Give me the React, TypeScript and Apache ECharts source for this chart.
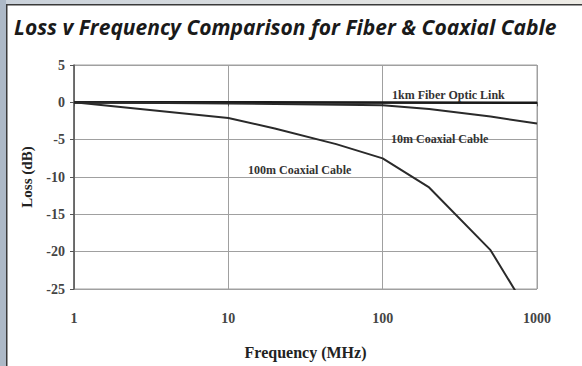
import React, { useEffect, useRef } from "react";
import * as echarts from "echarts";

const fiberFreq = [1, 10, 100, 1000];
const fiberLoss = [0, 0, -0.02, -0.05];
const coax10Freq = [1, 10, 100, 200, 500, 1000];
const coax10Loss = [0, -0.15, -0.4, -0.9, -1.9, -2.85];
const coax100Freq = [1, 10, 20, 50, 100, 200, 500, 1000];
const coax100Loss = [0, -2.1, -3.5, -5.6, -7.5, -11.4, -19.8, -30];
const xTicks = [1, 10, 100, 1000];

const pairs = (xs: number[], ys: number[]) => xs.map((x, i) => [x, ys[i]]);

export default function App() {
  const ref = useRef<HTMLDivElement>(null);
  useEffect(() => {
    const chart = echarts.init(ref.current!, null, { renderer: "svg" });
    const serif = "Liberation Serif";
    chart.setOption({
      animation: false,
      backgroundColor: "#ffffff",
      title: {
        text: "Loss v Frequency Comparison for Fiber & Coaxial Cable",
        left: 9,
        top: 11,
        textStyle: {
          fontFamily: "'Open Sans', sans-serif",
          fontStyle: "italic",
          fontWeight: "bold",
          fontSize: 21,
          color: "#1a1a1a",
        },
      },
      graphic: [
        {
          type: "rect",
          shape: { x: 0, y: 0, width: 582, height: 4 },
          style: {
            fill: new echarts.graphic.LinearGradient(0, 0, 1, 0, [
              { offset: 0, color: "#c9d1da" },
              { offset: 1, color: "#eeece6" },
            ]),
          },
          z: 100,
        },
        { type: "rect", shape: { x: 0, y: 0, width: 6, height: 366 }, style: { fill: "#adb9c7" }, z: 100 },
        { type: "rect", shape: { x: 6, y: 4, width: 576, height: 1.5 }, style: { fill: "#3a3a3a" }, z: 101 },
        { type: "rect", shape: { x: 6, y: 4, width: 1.5, height: 362 }, style: { fill: "#3a3a3a" }, z: 101 },
        {
          type: "text",
          left: 392,
          top: 89,
          style: { text: "1km Fiber Optic Link", font: `bold 12px ${serif}`, fill: "#333" },
          z: 50,
        },
        {
          type: "text",
          left: 391,
          top: 133,
          style: { text: "10m Coaxial Cable", font: `bold 12px ${serif}`, fill: "#333" },
          z: 50,
        },
        {
          type: "text",
          left: 248,
          top: 164,
          style: { text: "100m Coaxial Cable", font: `bold 12px ${serif}`, fill: "#333" },
          z: 50,
        },
      ],
      grid: { left: 74, right: 45, top: 65, bottom: 77, show: true, borderColor: "#a0a0a0", borderWidth: 1 },
      xAxis: {
        type: "log",
        logBase: 10,
        min: 1,
        max: 1000,
        name: "Frequency (MHz)",
        nameLocation: "middle",
        nameGap: 55,
        nameTextStyle: { fontFamily: serif, fontWeight: "bold", fontSize: 16, color: "#222" },
        axisLine: { show: true, lineStyle: { color: "#555", width: 1.5 } },
        axisTick: { show: true, length: 4, lineStyle: { color: "#555" } },
        minorTick: { show: false },
        axisLabel: {
          fontFamily: serif,
          fontSize: 14,
          fontWeight: "bold",
          color: "#444",
          margin: 22,
          customValues: xTicks,
          formatter: (v: number) => String(Math.round(v)),
        },
        splitLine: { show: true, lineStyle: { color: "#a0a0a0", width: 1 } },
      },
      yAxis: {
        type: "value",
        min: -25,
        max: 5,
        interval: 5,
        name: "Loss (dB)",
        nameLocation: "middle",
        nameGap: 40,
        nameTextStyle: { fontFamily: serif, fontWeight: "bold", fontSize: 15, color: "#222" },
        axisLine: { show: true, lineStyle: { color: "#555", width: 1.5 } },
        axisTick: { show: true, length: 4, lineStyle: { color: "#555" } },
        axisLabel: {
          fontFamily: serif,
          fontSize: 14,
          fontWeight: "bold",
          color: "#444",
          margin: 9,
          formatter: (v: number) => String(v),
        },
        splitLine: { show: true, lineStyle: { color: "#a0a0a0", width: 1 } },
      },
      series: [
        {
          type: "line",
          name: "1km Fiber Optic Link",
          data: pairs(fiberFreq, fiberLoss),
          symbol: "none",
          lineStyle: { color: "#1a1a1a", width: 2.5 },
          clip: true,
        },
        {
          type: "line",
          name: "10m Coaxial Cable",
          data: pairs(coax10Freq, coax10Loss),
          symbol: "none",
          lineStyle: { color: "#2a2a2a", width: 2 },
          clip: true,
        },
        {
          type: "line",
          name: "100m Coaxial Cable",
          data: pairs(coax100Freq, coax100Loss),
          symbol: "none",
          lineStyle: { color: "#2a2a2a", width: 2 },
          clip: true,
        },
      ],
    });
    return () => chart.dispose();
  }, []);
  return (
    <div
      ref={ref}
      style={{ position: "fixed", left: 0, top: 0, width: 582, height: 366 }}
    />
  );
}
